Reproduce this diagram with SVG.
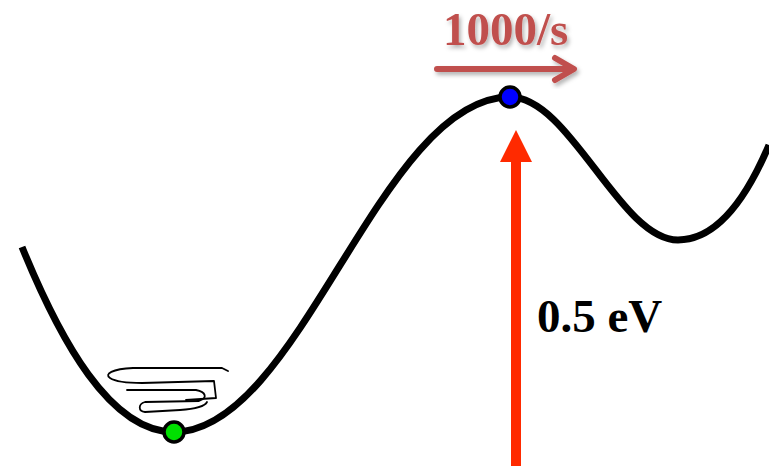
<svg xmlns="http://www.w3.org/2000/svg" width="769" height="466" viewBox="0 0 769 466">
<style>
.curve{fill:none;stroke:#000;stroke-width:7;stroke-linecap:butt;stroke-linejoin:round}
.scribble{fill:none;stroke:#000;stroke-width:1.8;stroke-linejoin:round;stroke-linecap:round}
.dot{stroke:#000;stroke-width:3.5}
.lbl{font-family:"Liberation Serif","Times New Roman",serif;font-weight:bold;font-size:47px}
.rate{fill:#c0504d}
.rateline{fill:none;stroke:#c0504d;stroke-width:6;stroke-linecap:round;stroke-linejoin:round}
</style>
<defs>
<filter id="sh" x="-10%" y="-20%" width="130%" height="160%">
<feDropShadow dx="2" dy="3" stdDeviation="2" flood-color="#000" flood-opacity="0.3"/>
</filter>
</defs>
<rect width="769" height="466" fill="#fff"/>
<g id="landscape">
<path class="curve" d="M22,247 C60,340 110,432 174,432 C300,432 380,97 510,97 C570,97 620,240 678,240 C720,240 750,190 769,145"/>
</g>
<g id="scribble">
<path class="scribble" d="M228,371 L222,368 L133,368 C112,369 104,374 110,378 C116,382 130,383 142,383 L214,381 L216,398 L186,400"/>
<path class="scribble" d="M127,390 L196,390 C206,392 208,398 199,401 L145,402 C138,404 138,411 145,412 L180,410 C195,409 205,406 207,402"/>
</g>
<g id="connectors">
<g id="energy-arrow">
<rect x="511" y="158" width="10" height="308" fill="#ff2a00"/>
<polygon points="516,130 532,162 500,162" fill="#ff2a00"/>
</g>
<g id="rate-arrow" filter="url(#sh)">
<path class="rateline" d="M437,69 L573,69 M555,58 L574,69 L555,80"/>
</g>
</g>
<g id="min-state">
<circle class="dot" cx="174" cy="432" r="10" fill="#00e000"/>
</g>
<g id="saddle-state">
<circle class="dot" cx="510" cy="97" r="10" fill="#0000ff"/>
</g>
<g id="labels">
<text class="lbl rate" x="443" y="45" filter="url(#sh)">1000/s</text>
<text class="lbl" x="537" y="332" fill="#000">0.5 eV</text>
</g>
</svg>
